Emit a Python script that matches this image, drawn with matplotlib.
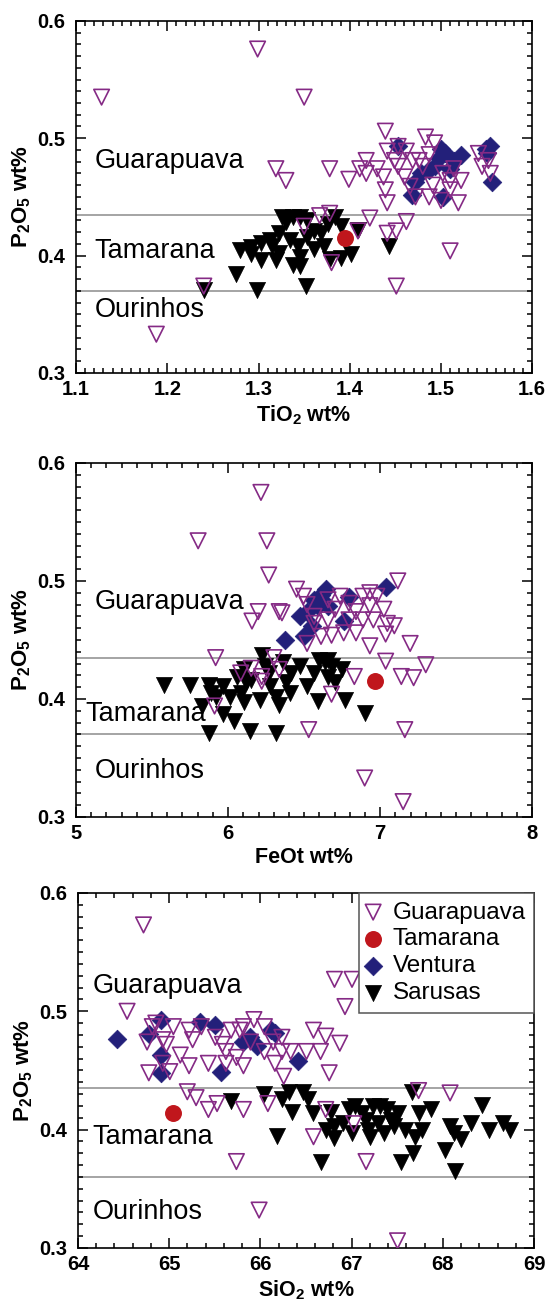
import matplotlib.pyplot as plt
from matplotlib.ticker import MultipleLocator

plt.rcParams['font.family'] = ['Liberation Sans', 'DejaVu Sans']
plt.rcParams['mathtext.fontset'] = 'custom'
plt.rcParams['mathtext.bf'] = 'Liberation Sans:bold'
plt.rcParams['mathtext.rm'] = 'Liberation Sans:bold'
plt.rcParams['mathtext.default'] = 'bf'

# ---- panel 1: TiO2 vs P2O5 ----
ti_guara_x = [1.128, 1.299, 1.350, 1.188, 1.240, 1.319, 1.330, 1.378, 1.399, 1.411,
              1.418, 1.430, 1.437, 1.439, 1.441, 1.439, 1.441, 1.453, 1.462, 1.460,
              1.466, 1.476, 1.483, 1.487, 1.480, 1.493, 1.491, 1.502, 1.500, 1.510,
              1.514, 1.519, 1.522, 1.541, 1.545, 1.552, 1.554, 1.422, 1.462, 1.441,
              1.451, 1.510, 1.451, 1.367, 1.378, 1.350, 1.380, 1.409, 1.418, 1.453,
              1.472, 1.487, 1.510, 1.469, 1.449]
ti_guara_y = [0.535, 0.576, 0.535, 0.333, 0.374, 0.474, 0.464, 0.474, 0.465, 0.474,
              0.470, 0.474, 0.467, 0.506, 0.489, 0.456, 0.445, 0.493, 0.489, 0.467,
              0.459, 0.481, 0.501, 0.486, 0.476, 0.496, 0.460, 0.470, 0.447, 0.464,
              0.474, 0.445, 0.464, 0.487, 0.476, 0.481, 0.470, 0.432, 0.429, 0.419,
              0.421, 0.404, 0.374, 0.434, 0.436, 0.425, 0.394, 0.421, 0.481, 0.476,
              0.450, 0.450, 0.456, 0.481, 0.481]
ti_vent_x = [1.453, 1.500, 1.498, 1.514, 1.510, 1.487, 1.478, 1.472, 1.468, 1.493,
             1.502, 1.522, 1.549, 1.554, 1.556, 1.550, 1.504]
ti_vent_y = [0.493, 0.491, 0.483, 0.481, 0.474, 0.473, 0.470, 0.463, 0.452, 0.476,
             0.450, 0.486, 0.491, 0.493, 0.463, 0.487, 0.487]
ti_tam_x = [1.395]
ti_tam_y = [0.415]
ti_saru_x = [1.240, 1.275, 1.298, 1.352, 1.280, 1.292, 1.303, 1.319, 1.338, 1.345,
             1.303, 1.313, 1.323, 1.330, 1.326, 1.338, 1.345, 1.353, 1.361, 1.334,
             1.343, 1.361, 1.372, 1.384, 1.390, 1.401, 1.390, 1.378, 1.409, 1.353,
             1.315, 1.292, 1.323, 1.443, 1.345, 1.368, 1.376]
ti_saru_y = [0.371, 0.384, 0.371, 0.374, 0.405, 0.401, 0.396, 0.396, 0.392, 0.399,
             0.411, 0.413, 0.419, 0.429, 0.433, 0.433, 0.433, 0.430, 0.421, 0.413,
             0.408, 0.406, 0.408, 0.433, 0.425, 0.401, 0.398, 0.397, 0.422, 0.416,
             0.408, 0.407, 0.402, 0.408, 0.391, 0.419, 0.427]
ti_ticks = [1.1, 1.2, 1.3, 1.4, 1.5, 1.6]
ti_ticklabels = ['1.1', '1.2', '1.3', '1.4', '1.5', '1.6']

# ---- panel 2: FeOt vs P2O5 ----
fe_guara_x = [6.216, 5.803, 6.255, 6.267, 6.198, 6.157, 6.336, 6.354, 5.918, 6.450,
              6.496, 6.519, 6.565, 6.657, 6.703, 6.737, 6.795, 6.841, 6.887, 6.932,
              6.955, 6.978, 7.024, 7.047, 7.116, 7.093, 7.036, 6.932, 7.197, 7.036,
              7.300, 7.139, 7.220, 6.830, 7.162, 6.898, 7.151, 6.530, 5.911, 6.680,
              6.611, 6.680, 6.760, 6.841, 6.519, 6.565, 6.657, 6.795, 6.887, 6.932,
              6.083, 6.152, 6.221, 6.301, 6.336, 6.221]
fe_guara_y = [0.575, 0.534, 0.534, 0.505, 0.474, 0.466, 0.474, 0.473, 0.435, 0.493,
              0.487, 0.480, 0.470, 0.484, 0.476, 0.487, 0.481, 0.474, 0.487, 0.479,
              0.467, 0.487, 0.476, 0.464, 0.500, 0.462, 0.455, 0.445, 0.447, 0.432,
              0.429, 0.419, 0.418, 0.419, 0.374, 0.333, 0.313, 0.374, 0.394, 0.404,
              0.453, 0.454, 0.456, 0.456, 0.447, 0.464, 0.467, 0.467, 0.467, 0.490,
              0.422, 0.426, 0.419, 0.435, 0.425, 0.415]
fe_vent_x = [6.377, 6.496, 6.473, 6.519, 6.565, 6.611, 6.645, 6.588, 6.657, 6.760,
             6.795, 7.036, 6.554]
fe_vent_y = [0.450, 0.453, 0.470, 0.474, 0.484, 0.488, 0.493, 0.479, 0.479, 0.466,
             0.486, 0.495, 0.462]
fe_tam_x = [6.967]
fe_tam_y = [0.415]
fe_saru_x = [5.578, 5.750, 5.877, 5.888, 5.831, 5.969, 6.037, 5.877, 6.141, 6.313,
             5.969, 6.014, 6.083, 6.106, 6.152, 6.209, 6.221, 6.244, 6.278, 6.313,
             6.336, 6.359, 6.382, 6.405, 6.473, 6.519, 6.565, 6.588, 6.634, 6.657,
             6.703, 6.772, 6.680, 6.749, 6.898, 6.060, 6.106, 6.118, 5.923, 6.267,
             6.599, 6.657, 6.416]
fe_saru_y = [0.412, 0.412, 0.412, 0.405, 0.394, 0.387, 0.381, 0.371, 0.373, 0.371,
             0.411, 0.402, 0.405, 0.397, 0.416, 0.399, 0.437, 0.428, 0.411, 0.402,
             0.395, 0.431, 0.414, 0.405, 0.428, 0.411, 0.422, 0.398, 0.431, 0.419,
             0.414, 0.399, 0.428, 0.425, 0.388, 0.419, 0.425, 0.414, 0.402, 0.422,
             0.433, 0.433, 0.422]
fe_ticks = [5, 6, 7, 8]
fe_ticklabels = ['5', '6', '7', '8']

# ---- panel 3: SiO2 vs P2O5 ----
si_guara_x = [64.718, 64.538, 64.776, 64.757, 64.814, 64.929, 64.968, 65.006, 65.121, 65.217,
              65.256, 65.217, 65.198, 65.294, 65.429, 65.524, 65.429, 65.505, 65.582, 65.621,
              65.678, 65.774, 65.736, 65.813, 65.813, 65.736, 65.928, 65.890, 65.985, 66.043,
              66.139, 66.158, 66.235, 66.254, 66.081, 66.331, 66.504, 66.581, 66.715, 66.658,
              66.753, 66.869, 66.926, 66.811, 67.003, 66.715, 66.581, 67.022, 67.157, 67.733,
              68.078, 67.502, 64.853, 65.045, 65.352, 65.621, 64.929, 66.043, 66.235, 65.813]
si_guara_y = [0.573, 0.500, 0.448, 0.474, 0.487, 0.476, 0.472, 0.449, 0.463, 0.484,
              0.476, 0.454, 0.432, 0.427, 0.417, 0.422, 0.456, 0.478, 0.472, 0.466,
              0.484, 0.484, 0.461, 0.454, 0.417, 0.373, 0.493, 0.474, 0.332, 0.487,
              0.474, 0.456, 0.478, 0.445, 0.422, 0.466, 0.466, 0.484, 0.479, 0.466,
              0.448, 0.473, 0.504, 0.527, 0.527, 0.417, 0.394, 0.405, 0.373, 0.433,
              0.431, 0.306, 0.490, 0.487, 0.487, 0.456, 0.456, 0.466, 0.466, 0.487]
si_vent_x = [64.430, 64.776, 64.910, 64.910, 64.910, 65.333, 65.505, 65.562, 65.813, 65.890,
             65.966, 66.120, 66.158, 66.408]
si_vent_y = [0.477, 0.481, 0.493, 0.463, 0.448, 0.491, 0.488, 0.449, 0.474, 0.478,
             0.471, 0.484, 0.482, 0.458]
si_tam_x = [65.045]
si_tam_y = [0.414]
si_saru_x = [65.678, 66.043, 66.177, 66.235, 66.312, 66.350, 66.466, 66.523, 66.658, 66.715,
             66.773, 66.811, 66.907, 66.965, 67.041, 67.118, 67.176, 67.234, 67.292, 67.349,
             67.426, 67.503, 67.541, 67.580, 67.656, 67.695, 67.676, 67.733, 67.772, 67.868,
             68.021, 68.117, 68.136, 68.194, 68.309, 68.424, 68.500, 68.654, 68.731, 68.078,
             67.157, 66.811, 66.999, 67.388, 67.464, 67.195, 66.581, 67.311]
si_saru_y = [0.424, 0.430, 0.395, 0.426, 0.432, 0.415, 0.432, 0.426, 0.373, 0.400,
             0.415, 0.393, 0.406, 0.417, 0.420, 0.414, 0.400, 0.420, 0.406, 0.397,
             0.408, 0.414, 0.373, 0.400, 0.432, 0.394, 0.380, 0.414, 0.400, 0.417,
             0.383, 0.397, 0.365, 0.392, 0.406, 0.421, 0.400, 0.406, 0.400, 0.403,
             0.408, 0.403, 0.397, 0.417, 0.403, 0.394, 0.414, 0.420]
si_ticks = [64, 65, 66, 67, 68, 69]
si_ticklabels = ['64', '65', '66', '67', '68', '69']

p_ticks = [0.3, 0.4, 0.5, 0.6]
p_ticklabels = ['0.3', '0.4', '0.5', '0.6']

purple = '#852a85'
navy = '#23207a'
red = '#c0161c'


def panel(ax, gx, gy, vx, vy, tx, ty, sx, sy, ticks, ticklabels, xmin, xlabel, lines, labels):
    for yl in lines:
        ax.axhline(yl, color='#8c8c8c', lw=1.1, zorder=1)
    ax.scatter(sx, sy, marker='v', s=135, c='black', lw=0.5, zorder=2, label='Sarusas')
    ax.scatter(vx, vy, marker='D', s=90, c=navy, lw=0.5, zorder=3, label='Ventura')
    ax.scatter(gx, gy, marker='v', s=125, facecolors='none', edgecolors=purple, lw=1.2,
               zorder=4, label='Guarapuava')
    ax.scatter(tx, ty, marker='o', s=125, c=red, zorder=5, label='Tamarana')

    for txt, xx, yy in labels:
        ax.text(xx, yy, txt, fontsize=19.5, va='center', ha='left', zorder=6)

    ax.set_xticks(ticks, ticklabels, fontweight='bold')
    ax.xaxis.set_minor_locator(MultipleLocator(xmin))
    ax.set_xlim(ticks[0], ticks[-1])
    ax.set_yticks(p_ticks, p_ticklabels, fontweight='bold')
    ax.yaxis.set_minor_locator(MultipleLocator(0.01))
    ax.set_ylim(p_ticks[0], p_ticks[-1])
    ax.tick_params(which='both', direction='in', top=True, right=True, width=1.1,
                   labelsize=14.5)
    ax.tick_params(axis='y', pad=8)
    ax.tick_params(axis='x', pad=5)
    ax.tick_params(which='major', length=7)
    ax.tick_params(which='minor', length=3.5)
    for sp in ax.spines.values():
        sp.set_linewidth(1.2)
    ax.set_xlabel(xlabel, fontsize=15.5, fontweight='bold', labelpad=3)
    ax.set_ylabel(r'P$_2$O$_5$ wt%', fontsize=16, fontweight='bold', labelpad=3)


fig = plt.figure(figsize=(5.47, 13.04), dpi=100)
ax1 = fig.add_axes([0.139, 0.714, 0.834, 0.270])
ax2 = fig.add_axes([0.139, 0.3735, 0.834, 0.2715])
ax3 = fig.add_axes([0.1426, 0.043, 0.834, 0.2722])

panel(ax1, ti_guara_x, ti_guara_y, ti_vent_x, ti_vent_y, ti_tam_x, ti_tam_y,
      ti_saru_x, ti_saru_y, ti_ticks, ti_ticklabels, 0.01, r'TiO$_2$ wt%', [0.435, 0.37],
      [('Guarapuava', 1.12, 0.481), ('Tamarana', 1.12, 0.404), ('Ourinhos', 1.12, 0.354)])

panel(ax2, fe_guara_x, fe_guara_y, fe_vent_x, fe_vent_y, fe_tam_x, fe_tam_y,
      fe_saru_x, fe_saru_y, fe_ticks, fe_ticklabels, 0.1, 'FeOt wt%', [0.435, 0.37],
      [('Guarapuava', 5.12, 0.482), ('Tamarana', 5.06, 0.387), ('Ourinhos', 5.12, 0.339)])

panel(ax3, si_guara_x, si_guara_y, si_vent_x, si_vent_y, si_tam_x, si_tam_y,
      si_saru_x, si_saru_y, si_ticks, si_ticklabels, 0.2, r'SiO$_2$ wt%', [0.435, 0.36],
      [('Guarapuava', 64.16, 0.521), ('Tamarana', 64.16, 0.394), ('Ourinhos', 64.16, 0.330)])

h, l = ax3.get_legend_handles_labels()
order = [2, 3, 1, 0]
leg = ax3.legend([h[i] for i in order], [l[i] for i in order], loc='upper right',
                 fontsize=17.5, frameon=True, fancybox=False, edgecolor='#555555',
                 borderaxespad=0, handletextpad=0.55, labelspacing=0.2,
                 borderpad=0.35, handlelength=0.5, framealpha=1)
leg.get_frame().set_linewidth(1.1)
leg.set_zorder(7)

fig.savefig('out.png', dpi=100)
